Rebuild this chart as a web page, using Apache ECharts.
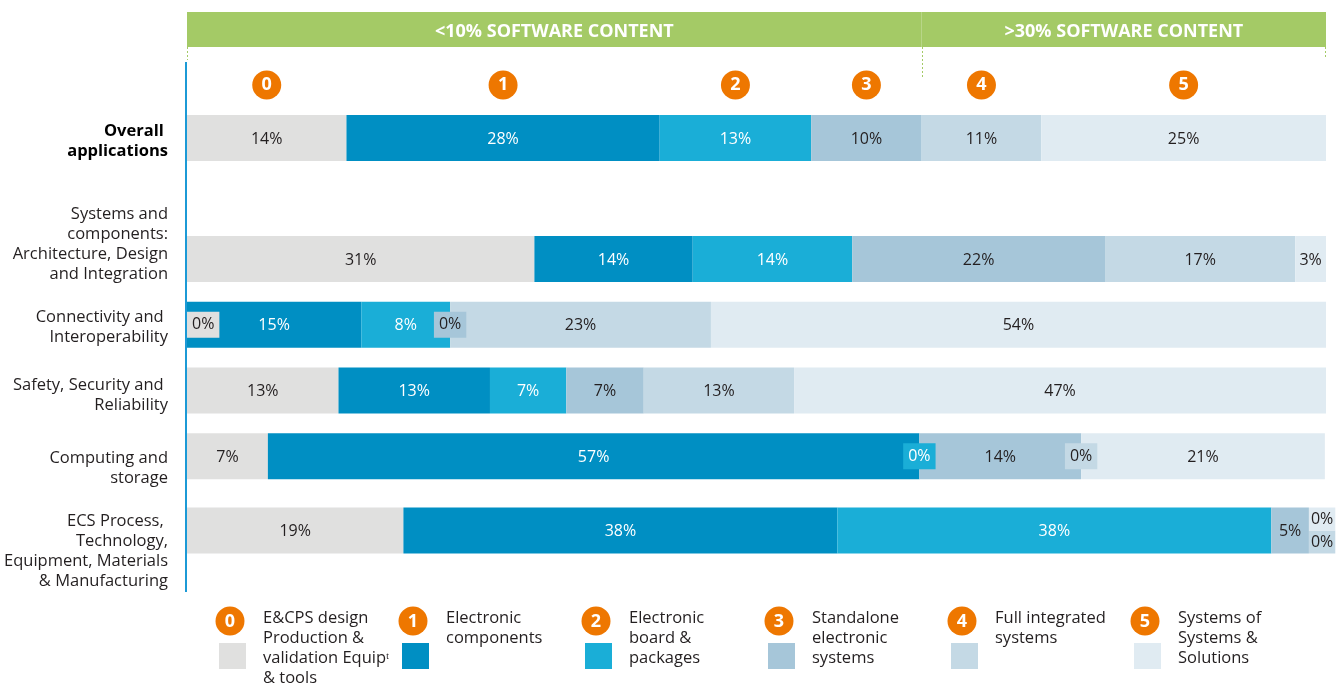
<!DOCTYPE html>
<html><head><meta charset="utf-8">
<script src="https://cdn.jsdelivr.net/npm/echarts@6/dist/echarts.min.js"></script>
<style>html,body{margin:0;padding:0;background:#fff}#c{width:1340px;height:685px}</style>
</head><body><div id="c"></div>
<script>
// ---------- data ----------
const levelNumbers = ['0', '1', '2', '3', '4', '5'];
const levelNames = [
  'E&CPS design\nProduction &\nvalidation Equipᵗ\n& tools',
  'Electronic\ncomponents',
  'Electronic\nboard &\npackages',
  'Standalone\nelectronic\nsystems',
  'Full integrated\nsystems',
  'Systems of\nSystems &\nSolutions'
];
const headerLabels = ['<10% SOFTWARE CONTENT', '>30% SOFTWARE CONTENT'];
const overallCategory = ['Overall \napplications'];
const rowCategories = [
  'Systems and\ncomponents:\nArchitecture, Design\nand Integration',
  'Connectivity and \nInteroperability',
  'Safety, Security and \nReliability',
  'Computing and\nstorage',
  'ECS Process, \nTechnology,\nEquipment, Materials\n& Manufacturing'
];
// bar lengths as drawn (% of full bar) and printed labels (%)
const overallValues      = [14.0, 27.5, 13.3, 9.7, 10.5, 25.0];
const overallLabels      = [14, 28, 13, 10, 11, 25];
const systemsValues      = [30.5, 13.9, 14.0, 22.2, 16.7, 2.8];
const systemsLabels      = [31, 14, 14, 22, 17, 3];
const connectivityValues = [0, 15.3, 7.8, 0, 22.9, 54.0];
const connectivityLabels = [0, 15, 8, 0, 23, 54];
const safetyValues       = [13.3, 13.3, 6.7, 6.8, 13.2, 46.8];
const safetyLabels       = [13, 13, 7, 7, 13, 47];
const computingValues    = [7.1, 57.2, 0, 14.2, 0, 21.4];
const computingLabels    = [7, 57, 0, 14, 0, 21];
const ecsValues          = [19.0, 38.1, 38.1, 3.3, 0, 0];
const ecsLabels          = [19, 38, 38, 5, 0, 0];
const lowSoftwareLevels = 4; // levels 0..3 are "<10% software content"

// ---------- style ----------
const FONT = 'Open Sans';
const colors = ['#E0E0DF', '#008FC3', '#1AAED7', '#A6C6D9', '#C4D9E5', '#E0EBF2'];
const textColors = ['#231F20', '#ffffff', '#ffffff', '#231F20', '#231F20', '#231F20'];
const ORANGE = '#EE7700';
const GREEN = '#A4CA66';
const GL = 187, GR = 14, GW = 1340 - GL - GR;
const xPix = v => GL + v / 100 * GW;

const rowValues = [systemsValues, connectivityValues, safetyValues, computingValues, ecsValues];
const rowLabels = [systemsLabels, connectivityLabels, safetyLabels, computingLabels, ecsLabels];
// row blocks: [first row, row count, grid index]
const blocks = [[0, 4, 3], [4, 1, 4]];
const overallLabelShift = 3;
const rowLabelShift = [-15, 2.3, 4.6, 11.9, 20.5];

const sum = a => a.reduce((s, v) => s + v, 0);

function itemFor(values, lvl) {
  const v = values[lvl];
  if (v !== 0) return { value: v };
  const before = sum(values.slice(0, lvl));
  const after = sum(values.slice(lvl + 1));
  const lbl = { backgroundColor: colors[lvl], padding: [5, 5], lineHeight: 16, offset: [0, 0] };
  if (before === 0) {
    lbl.align = 'left';
  } else if (after === 0) {
    let first = values.length;
    while (first > 0 && values[first - 1] === 0) first--;
    const k = values.length - first, j = lvl - first;
    lbl.align = 'left';
    lbl.padding = [4, 2];
    lbl.lineHeight = 15;
    lbl.offset = [0, ((k - 1) / 2 - j) * 23];
  }
  return { value: v, label: lbl };
}

const series = [];
// header band
headerLabels.forEach((t, h) => {
  const v = h === 0 ? sum(overallValues.slice(0, lowSoftwareLevels)) : sum(overallValues.slice(lowSoftwareLevels));
  series.push({
    type: 'bar', stack: 'head', xAxisIndex: 0, yAxisIndex: 0, barWidth: 35,
    itemStyle: { color: GREEN }, silent: true,
    label: { show: true, position: 'inside', offset: [0, 2], formatter: t, color: '#fff', fontFamily: FONT, fontWeight: 'bold', fontSize: 18 },
    data: [v]
  });
});
// numbered circles above the overall bar
const circleData = overallValues.map((v, i) => [sum(overallValues.slice(0, i)) + v / 2, 0]);
series.push({
  type: 'scatter', xAxisIndex: 1, yAxisIndex: 1, symbol: 'circle', symbolSize: 29, silent: true,
  itemStyle: { color: ORANGE, opacity: 1 },
  label: { show: true, position: 'inside', formatter: p => levelNumbers[p.dataIndex], color: '#fff', fontFamily: FONT, fontWeight: 'bold', fontSize: 18 },
  data: circleData
});
levelNumbers.forEach((n, lvl) => {
  const base = {
    type: 'bar', name: n, barWidth: 46, silent: true,
    itemStyle: { color: colors[lvl] },
    emphasis: { disabled: true }
  };
  series.push(Object.assign({}, base, {
    stack: 'overall', xAxisIndex: 2, yAxisIndex: 2,
    label: { show: true, position: 'inside', offset: [0, 1], color: textColors[lvl], fontFamily: FONT, fontSize: 16,
      formatter: p => overallLabels[lvl] + '%' },
    data: [itemFor(overallValues, lvl)]
  }));
  blocks.forEach(([first, count, g]) => {
    series.push(Object.assign({}, base, {
      stack: 'rows' + g, xAxisIndex: g, yAxisIndex: g,
      label: { show: true, position: 'inside', offset: [0, 1], color: textColors[lvl], fontFamily: FONT, fontSize: 16,
        formatter: p => rowLabels[first + p.dataIndex][lvl] + '%' },
      data: rowValues.slice(first, first + count).map(vals => itemFor(vals, lvl))
    }));
  });
});

const hiddenCat = (g, d, inv) => ({ type: 'category', gridIndex: g, data: d, inverse: !!inv,
  axisLine: { show: false }, axisTick: { show: false }, splitLine: { show: false }, axisLabel: { show: false } });

// graphics: axis line, dashed separators, legend
const graphic = [];
graphic.push({ type: 'line', shape: { x1: 186, y1: 62, x2: 186, y2: 592 }, style: { stroke: '#1C9AD6', lineWidth: 2 }, z: 100 });
const split = sum(overallValues.slice(0, lowSoftwareLevels));
[[0, 60], [split, 79], [100, 57]].forEach(([v, y2]) => {
  const x = Math.round(xPix(v)) + 0.5 - (v === 100 ? 1 : 0);
  graphic.push({ type: 'line', shape: { x1: x, y1: 47, x2: x, y2: y2 }, style: { stroke: GREEN, lineWidth: 1, lineDash: [2, 2] }, z: 100 });
});
levelNumbers.forEach((n, i) => {
  const cx = 230 + 183 * i;
  graphic.push({ type: 'circle', shape: { cx: cx, cy: 621, r: 14.5 }, style: { fill: ORANGE } });
  graphic.push({ type: 'text', x: cx, y: 622, style: { text: n, fill: '#fff', font: 'bold 18px "Open Sans"', align: 'center', verticalAlign: 'middle' } });
  graphic.push({ type: 'rect', shape: { x: cx - 11, y: 643, width: 27, height: 26 }, style: { fill: colors[i] } });
  graphic.push({ type: 'text', x: cx + 33, y: 608, style: { text: levelNames[i], fill: '#231F20', font: '16.5px "Open Sans"', lineHeight: 20, align: 'left', verticalAlign: 'top' } });
});

const option = {
  animation: false,
  backgroundColor: '#fff',
  grid: [
    { left: GL, right: GR, top: 12, height: 35, outerBoundsMode: 'none' },
    { left: GL, right: GR, top: 70, height: 30, outerBoundsMode: 'none' },
    { left: GL, right: GR, top: 105, height: 66, outerBoundsMode: 'none' },
    { left: GL, right: GR, top: 226.2, height: 262.8, outerBoundsMode: 'none' },
    { left: GL, right: GR, top: 505, height: 51, outerBoundsMode: 'none' }
  ],
  xAxis: [0, 1, 2, 3, 4].map(g => ({ type: 'value', gridIndex: g, min: 0, max: 100, show: false })),
  yAxis: [
    hiddenCat(0, ['h']),
    hiddenCat(1, ['c']),
    hiddenCat(2, overallCategory)
  ].concat(blocks.map(([first, count, g]) => hiddenCat(g, rowCategories.slice(first, first + count), true))),
  series: series,
  graphic: graphic
};
const chart = echarts.init(document.getElementById('c'));
chart.setOption(option);

// category labels placed at the category centres given by the y axes
const catGraphics = [];
const labelX = 168;
overallCategory.forEach((c, i) => {
  const y = chart.convertToPixel({ yAxisIndex: 2 }, i) + overallLabelShift;
  catGraphics.push({ type: 'text', x: labelX, y: y, style: { text: c, fill: '#000', font: 'bold 16.5px "Open Sans"', lineHeight: 20, align: 'right', verticalAlign: 'middle' } });
});
blocks.forEach(([first, count, g]) => {
  for (let k = 0; k < count; k++) {
    const i = first + k;
    const y = chart.convertToPixel({ yAxisIndex: g }, k) + rowLabelShift[i];
    catGraphics.push({ type: 'text', x: labelX, y: y, style: { text: rowCategories[i], fill: '#231F20', font: '16.5px "Open Sans"', lineHeight: 20, align: 'right', verticalAlign: 'middle' } });
  }
});
chart.setOption({ graphic: graphic.concat(catGraphics) });
</script></body></html>
